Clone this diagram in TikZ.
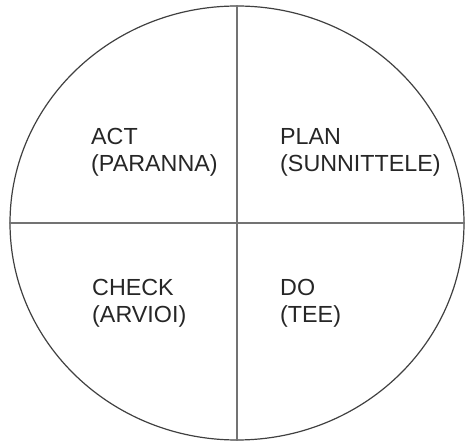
\documentclass[tikz,border=0pt]{standalone}
\usepackage{fontspec}
\setmainfont{Liberation Sans}
\usetikzlibrary{shapes.geometric}
\tikzset{
  rim/.style={ellipse, draw=black!75, line width=1.2pt, minimum width=454pt, minimum height=434pt, inner sep=0pt},
  divider/.style={draw=black!55, line width=1.1pt},
  quadlabel/.style={anchor=base west, align=left, inner sep=0pt, text=black!85, font=\fontsize{23.3}{27}\selectfont}
}
\begin{document}
\begin{tikzpicture}[x=1pt,y=1pt]
\useasboundingbox (0,0) rectangle (465,441);
\node[rim] (c) at (237,218) {};
\draw[divider] (c.north) -- (c.south);
\draw[divider] (c.west) -- (c.east);
\node[quadlabel] (act) at (91,269) {ACT\\(PARANNA)};
\node[quadlabel] (plan) at (280,269) {PLAN\\(SUNNITTELE)};
\node[quadlabel] (check) at (92,118) {CHECK\\(ARVIOI)};
\node[quadlabel] (do) at (280,118) {DO\\(TEE)};
\end{tikzpicture}
\end{document}
